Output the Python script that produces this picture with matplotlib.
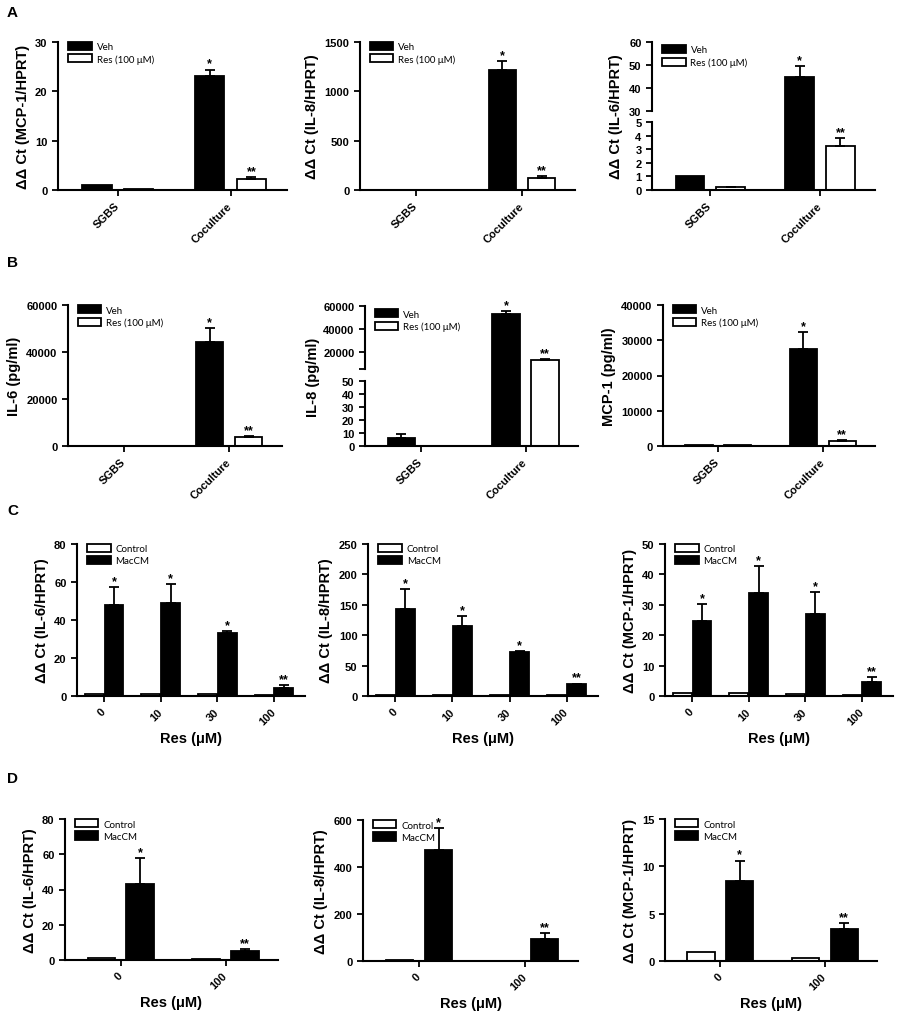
import matplotlib
matplotlib.use("Agg")
import matplotlib.pyplot as plt
from matplotlib.transforms import Bbox, TransformedBbox
import numpy as np

plt.rcParams['font.family'] = ['Liberation Sans', 'DejaVu Sans']
plt.rcParams['font.weight'] = 'bold'
plt.rcParams['axes.labelweight'] = 'bold'

# ---- data ----
groups_ab = ["SGBS", "Coculture"]
doses_c = ["0", "10", "30", "100"]
doses_d = ["0", "100"]

# A: qPCR, SGBS vs coculture
a_mcp1_veh, a_mcp1_veh_err = [1.0, 23.2], [0, 1.2]
a_mcp1_res, a_mcp1_res_err = [0.2, 2.3], [0, 0.35]
a_il8_veh, a_il8_veh_err = [1.0, 1215], [0, 95]
a_il8_res, a_il8_res_err = [0.4, 122], [0, 18]
a_il6_veh, a_il6_veh_err = [1.0, 44.6], [0, 4.8]
a_il6_res, a_il6_res_err = [0.2, 3.2], [0.05, 0.6]

# B: secreted protein (pg/ml)
b_il6_veh, b_il6_veh_err = [150, 44300], [0, 6000]
b_il6_res, b_il6_res_err = [60, 3800], [0, 300]
b_il8_veh, b_il8_veh_err = [6, 52800], [3, 2800]
b_il8_res, b_il8_res_err = [0.3, 13000], [0, 800]
b_mcp1_veh, b_mcp1_veh_err = [350, 27400], [0, 4800]
b_mcp1_res, b_mcp1_res_err = [150, 1450], [0, 250]

# C: dose response
c_il6_ctrl = [0.9, 1.0, 0.8, 0.6]
c_il6_mac, c_il6_mac_err = [47.8, 49.2, 33.0, 4.4], [9.7, 9.7, 1.0, 1.4]
c_il8_ctrl = [1.0, 1.0, 1.0, 1.0]
c_il8_mac, c_il8_mac_err = [143, 115, 72, 19], [33, 17, 2, 1.5]
c_mcp1_ctrl = [0.9, 1.0, 0.5, 0.3]
c_mcp1_mac, c_mcp1_mac_err = [24.7, 33.8, 26.9, 4.6], [5.5, 8.8, 7.2, 1.7]

# D: 0 vs 100 uM
d_il6_ctrl = [1.0, 0.5]
d_il6_mac, d_il6_mac_err = [43.0, 5.1], [15.0, 1.2]
d_il8_ctrl = [3, 2]
d_il8_mac, d_il8_mac_err = [472, 92], [92, 28]
d_mcp1_ctrl = [1.0, 0.3]
d_mcp1_mac, d_mcp1_mac_err = [8.5, 3.37], [2.1, 0.6]

stars_ab = ["", "*"], ["", "**"]
stars_c = ["*", "*", "*", "**"]
stars_d = ["*", "**"]

W, H = 900, 1012
fig = plt.figure(figsize=(W / 100, H / 100), dpi=100)


def ax_at(l, r, t, b):
    return fig.add_axes([l / W, 1 - b / H, (r - l) / W, (b - t) / H])


def style(ax, bottom=True):
    ax.spines['top'].set_visible(False)
    ax.spines['right'].set_visible(False)
    ax.spines['left'].set_linewidth(1.5)
    ax.spines['bottom'].set_linewidth(1.5)
    ax.spines['bottom'].set_visible(bottom)
    ax.tick_params(direction='out', length=4, width=1.3, labelsize=8)
    if not bottom:
        ax.tick_params(axis='x', bottom=False, labelbottom=False)


def bars(ax, xs, vals, errs, color, label, stars=None, width=0.26):
    bc = ax.bar(xs, vals, width, color=color, edgecolor='black', linewidth=1.3,
                label=label, zorder=2)
    xs = np.asarray(xs, dtype=float)
    vals = np.asarray(vals, dtype=float)
    errs = np.asarray(errs, dtype=float)
    m = errs > 0
    if m.any():
        ax.errorbar(xs[m], vals[m], yerr=[np.zeros(m.sum()), errs[m]], fmt='none',
                    ecolor='black', elinewidth=1.3, capsize=3.5, capthick=1.3, zorder=3)
    if stars:
        for x, v, e, s in zip(xs, vals, errs, stars):
            if s:
                ax.annotate(s, (x, v + e), xytext=(0, 0), textcoords='offset points',
                            ha='center', va='bottom', fontsize=9, fontweight='bold')
    return bc


def legend(ax):
    ax.legend(loc='upper left', bbox_to_anchor=(0.02, 1.04), frameon=False,
              prop={'family': 'Lato', 'weight': 'normal', 'size': 7},
              handlelength=2.4, handleheight=0.9, labelspacing=0.3,
              handletextpad=0.5, borderaxespad=0.2)


def xcats(ax, labels, xlim):
    ax.set_xticks(range(len(labels)))
    ax.set_xticklabels(labels, rotation=45, ha='right', va='center',
                       rotation_mode='anchor', fontsize=8.5)
    ax.tick_params(axis='x', pad=6)
    ax.set_xlim(*xlim)


def ab_panel(ax, veh, veh_err, res, res_err, ylabel, yticks):
    x = np.arange(len(groups_ab))
    bars(ax, x - 0.185, veh, veh_err, 'black', 'Veh', stars_ab[0])
    bars(ax, x + 0.185, res, res_err, 'white', 'Res (100 μM)', stars_ab[1])
    ax.set_ylim(yticks[0], yticks[-1])
    ax.set_yticks(yticks)
    xcats(ax, groups_ab, (-0.53, 1.5))
    ax.set_ylabel(ylabel, fontsize=10.5)
    style(ax)
    legend(ax)


def broken_panel(box_up, box_low, veh, veh_err, res, res_err, ylabel,
                 yt_up, ylim_up, yt_low, ylabel_dx):
    ax_up = ax_at(*box_up)
    ax_low = ax_at(*box_low)
    x = np.arange(len(groups_ab))
    for ax in (ax_up, ax_low):
        bars(ax, x - 0.185, veh, veh_err, 'black', 'Veh', stars_ab[0])
        bars(ax, x + 0.185, res, res_err, 'white', 'Res (100 μM)', stars_ab[1])
        ax.set_xlim(-0.53, 1.5)
    # let the lower bars run through the gap so they look continuous
    gap = (box_low[2] - box_up[3]) / (box_low[3] - box_low[2])
    clip = TransformedBbox(Bbox([[0, 0], [1, 1 + gap]]), ax_low.transAxes)
    for cont in ax_low.containers:
        if hasattr(cont, 'patches'):
            for p in cont.patches:
                p.set_clip_box(clip)
    ax_up.set_ylim(*ylim_up)
    ax_up.set_yticks(yt_up[0], yt_up[1])
    ax_low.set_ylim(yt_low[0], yt_low[-1])
    ax_low.set_yticks(yt_low)
    xcats(ax_low, groups_ab, (-0.53, 1.5))
    style(ax_up, bottom=False)
    style(ax_low)
    legend(ax_up)
    ax_low.set_ylabel(ylabel, fontsize=10.5)
    hl = box_low[3] - box_low[2]
    mid = (box_low[3] - (box_up[2] + box_low[3]) / 2) / hl
    ax_low.yaxis.set_label_coords(-ylabel_dx / (box_low[1] - box_low[0]), mid)


def cd_panel(ax, labels, ctrl, mac, mac_err, stars, ylabel, yticks, xlim, width, off):
    x = np.arange(len(labels))
    bars(ax, x - off, ctrl, np.zeros(len(ctrl)), 'white', 'Control', None, width)
    bars(ax, x + off, mac, mac_err, 'black', 'MacCM', stars, width)
    ax.set_ylim(yticks[0], yticks[-1])
    ax.set_yticks(yticks)
    xcats(ax, labels, xlim)
    ax.set_ylabel(ylabel, fontsize=10.5)
    ax.set_xlabel('Res (μM)', fontsize=10.5, labelpad=3)
    style(ax)
    legend(ax)


# ---- row A ----
ab_panel(ax_at(58, 287, 43, 191), a_mcp1_veh, a_mcp1_veh_err, a_mcp1_res, a_mcp1_res_err,
         'ΔΔ Ct (MCP-1/HPRT)', [0, 10, 20, 30])
ab_panel(ax_at(360, 575, 43, 191), a_il8_veh, a_il8_veh_err, a_il8_res, a_il8_res_err,
         'ΔΔ Ct (IL-8/HPRT)', [0, 500, 1000, 1500])
broken_panel((652, 875, 43, 112), (652, 875, 123, 191), a_il6_veh, a_il6_veh_err,
             a_il6_res, a_il6_res_err, 'ΔΔ Ct (IL-6/HPRT)',
             ([30, 40, 50, 60], ['30', '40', '50', '60']), (30, 60), [0, 1, 2, 3, 4, 5], 29)

# ---- row B ----
ab_panel(ax_at(68, 282, 306, 447), b_il6_veh, b_il6_veh_err, b_il6_res, b_il6_res_err,
         'IL-6 (pg/ml)', [0, 20000, 40000, 60000])
broken_panel((365, 578, 307, 370), (365, 578, 382, 447), b_il8_veh, b_il8_veh_err,
             b_il8_res, b_il8_res_err, 'IL-8 (pg/ml)',
             ([5000, 20000, 40000, 60000], ['', '20000', '40000', '60000']), (5000, 60000),
             [0, 10, 20, 30, 40, 50], 45)
ab_panel(ax_at(663, 875, 306, 447), b_mcp1_veh, b_mcp1_veh_err, b_mcp1_res, b_mcp1_res_err,
         'MCP-1 (pg/ml)', [0, 10000, 20000, 30000, 40000])

# ---- row C ----
cxl = (-0.48, 3.55)
cd_panel(ax_at(77, 305, 545, 697), doses_c, c_il6_ctrl, c_il6_mac, c_il6_mac_err, stars_c,
         'ΔΔ Ct (IL-6/HPRT)', [0, 20, 40, 60, 80], cxl, 0.33, 0.175)
cd_panel(ax_at(368, 598, 545, 697), doses_c, c_il8_ctrl, c_il8_mac, c_il8_mac_err, stars_c,
         'ΔΔ Ct (IL-8/HPRT)', [0, 50, 100, 150, 200, 250], cxl, 0.33, 0.175)
cd_panel(ax_at(665, 893, 545, 697), doses_c, c_mcp1_ctrl, c_mcp1_mac, c_mcp1_mac_err, stars_c,
         'ΔΔ Ct (MCP-1/HPRT)', [0, 10, 20, 30, 40, 50], cxl, 0.33, 0.175)

# ---- row D ----
dxl = (-0.53, 1.5)
cd_panel(ax_at(65, 278, 820, 961), doses_d, d_il6_ctrl, d_il6_mac, d_il6_mac_err, stars_d,
         'ΔΔ Ct (IL-6/HPRT)', [0, 20, 40, 60, 80], dxl, 0.26, 0.185)
cd_panel(ax_at(363, 578, 821, 962), doses_d, d_il8_ctrl, d_il8_mac, d_il8_mac_err, stars_d,
         'ΔΔ Ct (IL-8/HPRT)', [0, 200, 400, 600], dxl, 0.26, 0.185)
cd_panel(ax_at(665, 877, 820, 962), doses_d, d_mcp1_ctrl, d_mcp1_mac, d_mcp1_mac_err, stars_d,
         'ΔΔ Ct (MCP-1/HPRT)', [0, 5, 10, 15], dxl, 0.26, 0.185)

# panel letters
for letter, ypx in [('A', 13), ('B', 263), ('C', 511), ('D', 779)]:
    fig.text(7 / W, 1 - ypx / H, letter, fontsize=11, fontweight='bold', va='center')

fig.savefig('out.png', dpi=100)
